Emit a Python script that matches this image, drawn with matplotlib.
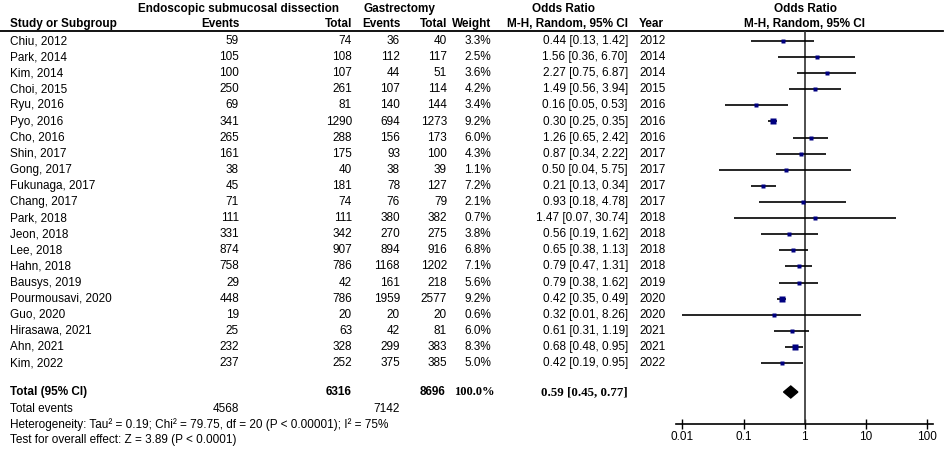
import matplotlib
matplotlib.use("Agg")
import numpy as np
from matplotlib import pyplot as plt

studies = ['Chiu, 2012', 'Park, 2014', 'Kim, 2014', 'Choi, 2015', 'Ryu, 2016', 'Pyo, 2016',
           'Cho, 2016', 'Shin, 2017', 'Gong, 2017', 'Fukunaga, 2017', 'Chang, 2017',
           'Park, 2018', 'Jeon, 2018', 'Lee, 2018', 'Hahn, 2018', 'Bausys, 2019',
           'Pourmousavi, 2020', 'Guo, 2020', 'Hirasawa, 2021', 'Ahn, 2021', 'Kim, 2022']
esd_events = [59, 105, 100, 250, 69, 341, 265, 161, 38, 45, 71, 111, 331, 874, 758, 29, 448, 19, 25, 232, 237]
esd_total = [74, 108, 107, 261, 81, 1290, 288, 175, 40, 181, 74, 111, 342, 907, 786, 42, 786, 20, 63, 328, 252]
gas_events = [36, 112, 44, 107, 140, 694, 156, 93, 38, 78, 76, 380, 270, 894, 1168, 161, 1959, 20, 42, 299, 375]
gas_total = [40, 117, 51, 114, 144, 1273, 173, 100, 39, 127, 79, 382, 275, 916, 1202, 218, 2577, 20, 81, 383, 385]
weights = [3.3, 2.5, 3.6, 4.2, 3.4, 9.2, 6.0, 4.3, 1.1, 7.2, 2.1, 0.7, 3.8, 6.8, 7.1, 5.6, 9.2, 0.6, 6.0, 8.3, 5.0]
odds = [0.44, 1.56, 2.27, 1.49, 0.16, 0.30, 1.26, 0.87, 0.50, 0.21, 0.93, 1.47, 0.56, 0.65, 0.79, 0.79, 0.42, 0.32, 0.61, 0.68, 0.42]
ci_low = [0.13, 0.36, 0.75, 0.56, 0.05, 0.25, 0.65, 0.34, 0.04, 0.13, 0.18, 0.07, 0.19, 0.38, 0.47, 0.38, 0.35, 0.01, 0.31, 0.48, 0.19]
ci_high = [1.42, 6.70, 6.87, 3.94, 0.53, 0.35, 2.42, 2.22, 5.75, 0.34, 4.78, 30.74, 1.62, 1.13, 1.31, 1.62, 0.49, 8.26, 1.19, 0.95, 0.95]
years = [2012, 2014, 2014, 2015, 2016, 2016, 2016, 2017, 2017, 2017, 2017, 2018, 2018, 2018, 2018, 2019, 2020, 2020, 2021, 2021, 2022]
total_or, total_low, total_high = 0.59, 0.45, 0.77
tick_vals = [0.01, 0.1, 1, 10, 100]
tick_labels = ['0.01', '0.1', '1', '10', '100']

W, H = 945, 465
plt.rcParams['font.family'] = ['Liberation Sans', 'DejaVu Sans']
fs = 8.5

fig = plt.figure(figsize=(W / 100, H / 100), dpi=100)
tx = fig.add_axes([0, 0, 1, 1])
tx.set_xlim(0, W)
tx.set_ylim(H, 0)
tx.axis('off')

def t(x, y, s, ha='left', size=fs, **kw):
    tx.text(x, y, s, ha=ha, va='center', fontsize=size, **kw)

row_y = [41 + 16.1 * i for i in range(len(studies))]
total_y = 392

# header
t(138, 9, 'Endoscopic submucosal dissection', weight='bold')
t(363, 9, 'Gastrectomy', weight='bold')
t(563, 9, 'Odds Ratio', ha='center', weight='bold')
t(805, 9, 'Odds Ratio', ha='center', weight='bold')
t(10, 24, 'Study or Subgroup', weight='bold')
t(240, 24, 'Events', ha='right', weight='bold')
t(352, 24, 'Total', ha='right', weight='bold')
t(401, 24, 'Events', ha='right', weight='bold')
t(447, 24, 'Total', ha='right', weight='bold')
t(452, 24, 'Weight', weight='bold')
t(628, 24, 'M-H, Random, 95% CI', ha='right', weight='bold')
t(639, 24, 'Year', weight='bold')
t(805, 24, 'M-H, Random, 95% CI', ha='center', weight='bold')
tx.plot([0, 943], [31.5, 31.5], color='black', lw=1.3)

for i, y in enumerate(row_y):
    t(10, y, studies[i])
    t(239, y, str(esd_events[i]), ha='right')
    t(352, y, str(esd_total[i]), ha='right')
    t(400, y, str(gas_events[i]), ha='right')
    t(447, y, str(gas_total[i]), ha='right')
    t(491, y, '%.1f%%' % weights[i], ha='right')
    t(628, y, '%.2f [%.2f, %.2f]' % (odds[i], ci_low[i], ci_high[i]), ha='right')
    t(639, y, str(years[i]))

t(10, total_y, 'Total (95% CI)', weight='bold')
t(352, total_y, str(sum(esd_total)), ha='right', weight='bold')
t(445, total_y, str(sum(gas_total)), ha='right', weight='bold')
t(495, total_y, '100.0%', ha='right', weight='bold', family='Liberation Serif', size=9)
t(628, total_y, '%.2f [%.2f, %.2f]' % (total_or, total_low, total_high), ha='right',
  weight='bold', family='Liberation Serif', size=9.3)
t(10, 409, 'Total events')
t(239, 409, str(sum(esd_events)), ha='right')
t(400, 409, str(sum(gas_events)), ha='right')
t(10, 424.5, 'Heterogeneity: Tau² = 0.19; Chi² = 79.75, df = 20 (P < 0.00001); I² = 75%')
t(10, 440, 'Test for overall effect: Z = 3.89 (P < 0.0001)')

# forest panel: pixel x 676..933, y 31.5..424
x0, x1 = 676, 933
px_dec = (927.3 - 682.3) / 4
lo = 10 ** (-2 - (682.3 - x0) / px_dec)
hi = 10 ** (2 + (x1 - 927.3) / px_dec)
y_top, y_bot = 31.5, 424.3
ax = fig.add_axes([x0 / W, 1 - y_bot / H, (x1 - x0) / W, (y_bot - y_top) / H])
ax.set_xscale('log')
ax.set_xlim(lo, hi)
ax.set_ylim(y_bot, y_top)
ax.patch.set_alpha(0)
for s in ['top', 'left', 'right']:
    ax.spines[s].set_visible(False)
ax.spines['bottom'].set_linewidth(1.2)
ax.set_yticks([])
ax.set_xticks(tick_vals)
ax.set_xticklabels(tick_labels)
ax.minorticks_off()
ax.tick_params(axis='x', direction='inout', length=7, width=1, labelsize=fs, pad=1)
ax.axvline(1, color='#303030', lw=1.2)

for i, y in enumerate(row_y):
    ax.plot([ci_low[i], ci_high[i]], [y, y], color='black', lw=1.2, solid_capstyle='butt')
    ms = (3.0 + 0.25 * weights[i]) * 0.72
    ax.plot(odds[i], y, marker='s', ms=ms, color='#000080', mec='none', ls='none', zorder=3)

dx = [total_low, total_or, total_high, total_or]
dy = [total_y, total_y - 6, total_y, total_y + 6]
ax.fill(dx, dy, color='black', clip_on=False)

fig.savefig('out.png', dpi=100)
